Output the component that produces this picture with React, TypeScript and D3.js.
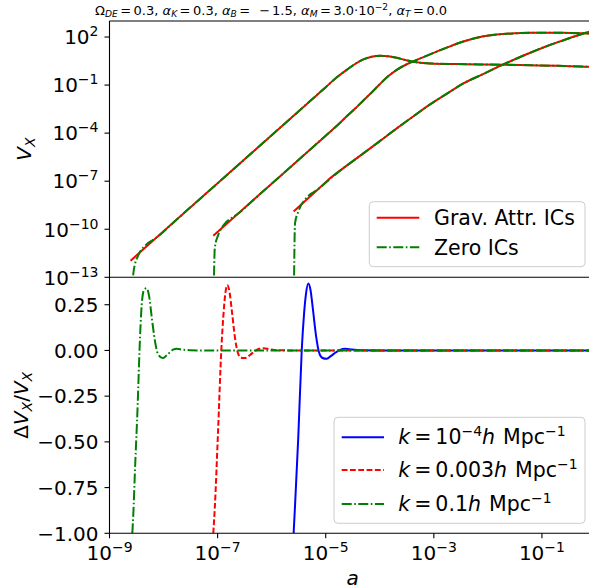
import React from "react";
import * as d3 from "d3";

// ---------- DATA (log10 values) ----------
// Top panel, gravitational-attractor ICs (red solid): log10(a), log10(V_X)
const gravK01LogA = [-8.61, -8.0, -7.0, -6.0, -5.0, -4.8, -4.612, -4.45, -4.304, -4.15, -4.0, -3.85, -3.686, -3.53, -3.379, -3.2, -3.07, -2.6, -2.145, -1.7, -1.22, -0.7, -0.13, 0];
const gravK01LogV = [-11.96, -10.13, -7.13, -4.13, -1.13, -0.53, -0.05, 0.33, 0.6, 0.77, 0.83, 0.8, 0.7, 0.57, 0.45, 0.38, 0.35, 0.31, 0.29, 0.27, 0.24, 0.2, 0.14, 0.12];

const gravK003LogA = [-7.08, -6.5, -6.0, -5.5, -5.0, -4.8, -4.612, -4.45, -4.304, -4.15, -3.995, -3.84, -3.686, -3.5, -3.316, -3.07, -2.75, -2.454, -2.145, -1.836, -1.5, -1.22, -0.9, -0.604, -0.3, 0];
const gravK003LogV = [-10.4, -8.66, -7.16, -5.66, -4.16, -3.56, -2.95, -2.45, -1.96, -1.46, -0.93, -0.44, -0.05, 0.3, 0.57, 0.92, 1.35, 1.72, 2.0, 2.15, 2.23, 2.26, 2.27, 2.26, 2.24, 2.21];

const gravK1e4LogA = [-5.594, -5.3, -5.0, -4.92, -4.6, -4.304, -4.0, -3.686, -3.37, -3.07, -2.75, -2.454, -2.1, -1.714, -1.35, -0.974, -0.6, -0.234, 0];
const gravK1e4LogV = [-8.89, -7.99, -7.07, -6.824, -6.0, -5.265, -4.5, -3.705, -2.93, -2.208, -1.52, -0.898, -0.33, 0.288, 0.83, 1.348, 1.8, 2.221, 2.45];

// Top panel, zero ICs (green dash-dot): early part that differs; afterwards it follows the red curve
const zeroK01LogA = [-8.578, -8.56, -8.528, -8.478, -8.445, -8.404, -8.362, -8.312, -8.269, -8.214, -8.158, -8.103, -8.016, -7.881, -7.757];
const zeroK01LogV = [-16, -12.81, -12.17, -11.713, -11.465, -11.245, -11.092, -10.939, -10.823, -10.704, -10.583, -10.448, -10.197, -9.777, -9.397];

const zeroK003LogA = [-7.08, -7.052, -6.993, -6.932, -6.891, -6.858, -6.821, -6.78, -6.734, -6.679, -6.623, -6.493, -6.308, -6.154];
const zeroK003LogV = [-16, -11.17, -10.399, -9.956, -9.754, -9.617, -9.49, -9.379, -9.279, -9.168, -9.036, -8.658, -8.085, -7.617];

const zeroK1e4LogA = [-5.594, -5.568, -5.507, -5.444, -5.401, -5.365, -5.322, -5.281, -5.235, -5.179, -5.124, -4.981, -4.809, -4.643];
const zeroK1e4LogV = [-16, -9.634, -8.9, -8.431, -8.22, -8.072, -7.923, -7.808, -7.705, -7.587, -7.456, -7.034, -6.544, -6.106];

// Bottom panel: Delta V_X / V_X versus log10(a)
const dK1e4LogA = [-5.594, -5.568, -5.507, -5.444, -5.401, -5.365, -5.322, -5.281, -5.235, -5.179, -5.124, -5.068, -4.981, -4.902, -4.809, -4.735, -4.643, -4.513, -4.365, -4.0, -3.0, -2.0, -1.0, 0];
const dK1e4 = [-1, -0.85, -0.47, 0, 0.2, 0.31, 0.366, 0.33, 0.22, 0.08, -0.01, -0.04, -0.046, -0.03, -0.01, 0.003, 0.009, 0.005, 0.001, 0, 0, 0, 0, 0];

const dK003LogA = [-7.08, -7.052, -6.993, -6.932, -6.891, -6.858, -6.821, -6.78, -6.734, -6.679, -6.623, -6.567, -6.493, -6.401, -6.308, -6.234, -6.154, -6.03, -5.882, -5.5, -4.0, -2.0, 0];
const dK003 = [-1, -0.86, -0.45, 0, 0.2, 0.31, 0.358, 0.32, 0.21, 0.07, -0.015, -0.04, -0.042, -0.025, -0.003, 0.009, 0.0125, 0.006, 0.001, 0, 0, 0, 0];

const dK01LogA = [-8.578, -8.56, -8.528, -8.478, -8.445, -8.404, -8.362, -8.312, -8.269, -8.214, -8.158, -8.103, -8.016, -7.955, -7.881, -7.825, -7.757, -7.659, -7.511, -7.326, -6.0, -4.0, -2.0, 0];
const dK01 = [-1, -0.9, -0.65, -0.29, 0, 0.25, 0.33, 0.34, 0.3, 0.17, 0.05, -0.02, -0.042, -0.03, -0.01, 0.004, 0.009, 0.005, 0.001, 0, 0, 0, 0, 0];

// Ticks
const xTickExps = [-9, -7, -5, -3, -1];
const yTopTickExps = [2, -1, -4, -7, -10, -13];
const yBotTicks = [0.25, 0, -0.25, -0.5, -0.75, -1.0];

// Legend labels
const topLegend = ["Grav. Attr. ICs", "Zero ICs"];
const kValues = ["10", "0.003", "0.1"];
const kSups = ["−4", "", ""];

// ---------- LAYOUT ----------
const W = 589, H = 588;
const X0 = 109.5, X1 = 596;
const TOP = 21, MID = 277.3, BOT = 533.3;
const FS = 20, SUP = 14, LFS = 20.5;
const RED = "#ff0000", GREEN = "#008000", BLUE = "#0000ff";
const DASH = "5.8,2.5";
const DASHDOT = "10,2.5,1.6,2.5";

const minus = (s: string) => s.replace(/-/g, "\u2212");

export default function App() {
  const x = d3.scaleLog().domain([1e-9, 1]).range([X0, X1]);
  const yT = d3.scaleLog().domain([1e-13, 1e3]).range([MID, TOP]);
  const yB = d3.scaleLinear().domain([-1, 0.4]).range([BOT, MID]);

  const topLine = d3
    .line<[number, number]>()
    .x((d) => x(Math.pow(10, d[0])))
    .y((d) => yT(Math.pow(10, d[1])))
    .curve(d3.curveMonotoneX);
  const botLine = d3
    .line<[number, number]>()
    .x((d) => x(Math.pow(10, d[0])))
    .y((d) => yB(d[1]))
    .curve(d3.curveMonotoneX);

  const zip = (a: number[], b: number[]) => a.map((v, i) => [v, b[i]] as [number, number]);
  const joinZero = (za: number[], zv: number[], ga: number[], gv: number[]) => {
    const start = zip(za, zv);
    const last = za[za.length - 1];
    return start.concat(zip(ga, gv).filter((p) => p[0] > last));
  };

  const grav = [
    zip(gravK01LogA, gravK01LogV),
    zip(gravK003LogA, gravK003LogV),
    zip(gravK1e4LogA, gravK1e4LogV),
  ];
  const zero = [
    joinZero(zeroK01LogA, zeroK01LogV, gravK01LogA, gravK01LogV),
    joinZero(zeroK003LogA, zeroK003LogV, gravK003LogA, gravK003LogV),
    joinZero(zeroK1e4LogA, zeroK1e4LogV, gravK1e4LogA, gravK1e4LogV),
  ];

  const font = "DejaVu Sans, sans-serif";
  const TS = 13, TSS = 9.1;

  return (
    <svg
      width={W}
      height={H}
      style={{ position: "absolute", left: 0, top: 0, background: "#fff" }}
      fontFamily={font}
    >
      <defs>
        <clipPath id="clipTop">
          <rect x={X0} y={TOP} width={X1 - X0} height={MID - TOP} />
        </clipPath>
        <clipPath id="clipBot">
          <rect x={X0} y={MID} width={X1 - X0} height={BOT - MID} />
        </clipPath>
      </defs>
      <rect x={0} y={0} width={W} height={H} fill="#fff" />

      {/* Title */}
      <text x={95} y={15} fontSize={TS} style={{ whiteSpace: "pre" }} fill="#000">
        <tspan>Ω</tspan>
        <tspan fontSize={TSS} fontStyle="italic" dy={2.3}>DE</tspan>
        <tspan dy={-2.3} dx={2.5}>=</tspan>
        <tspan dx={2.5}>0.3, </tspan>
        <tspan fontStyle="italic">α</tspan>
        <tspan fontSize={TSS} fontStyle="italic" dy={2.3}>K</tspan>
        <tspan dy={-2.3} dx={2.5}>=</tspan>
        <tspan dx={2.5}>0.3, </tspan>
        <tspan fontStyle="italic">α</tspan>
        <tspan fontSize={TSS} fontStyle="italic" dy={2.3}>B</tspan>
        <tspan dy={-2.3} dx={2.5}>=</tspan>
        <tspan dx={9}>−</tspan>
        <tspan dx={2}>1.5, </tspan>
        <tspan fontStyle="italic">α</tspan>
        <tspan fontSize={TSS} fontStyle="italic" dy={2.3}>M</tspan>
        <tspan dy={-2.3} dx={2.5}>=</tspan>
        <tspan dx={2.5}>3.0·10</tspan>
        <tspan fontSize={TSS} dy={-4.7}>−2</tspan>
        <tspan dy={4.7}>, </tspan>
        <tspan fontStyle="italic">α</tspan>
        <tspan fontSize={TSS} fontStyle="italic" dy={2.3}>T</tspan>
        <tspan dy={-2.3} dx={2.5}>=</tspan>
        <tspan dx={2.5}>0.0</tspan>
      </text>

      {/* Top panel curves */}
      <g clipPath="url(#clipTop)" fill="none" strokeWidth={2}>
        {grav.map((d, i) => (
          <path key={"g" + i} d={topLine(d) || ""} stroke={RED} />
        ))}
        {zero.map((d, i) => (
          <path key={"z" + i} d={topLine(d) || ""} stroke={GREEN} strokeDasharray={DASHDOT} />
        ))}
      </g>

      {/* Bottom panel curves */}
      <g clipPath="url(#clipBot)" fill="none" strokeWidth={2}>
        <path d={botLine(zip(dK1e4LogA, dK1e4)) || ""} stroke={BLUE} />
        <path d={botLine(zip(dK003LogA, dK003)) || ""} stroke={RED} strokeDasharray={DASH} />
        <path d={botLine(zip(dK01LogA, dK01)) || ""} stroke={GREEN} strokeDasharray={DASHDOT} />
      </g>

      {/* Spines */}
      <g stroke="#000" strokeWidth={1.1} fill="none">
        <line x1={X0} x2={X1} y1={TOP} y2={TOP} />
        <line x1={X0} x2={X1} y1={MID} y2={MID} />
        <line x1={X0} x2={X1} y1={BOT} y2={BOT} />
        <line x1={X0} x2={X0} y1={TOP} y2={BOT} />
      </g>

      {/* Top y ticks */}
      {yTopTickExps.map((e) => {
        const yy = yT(Math.pow(10, e));
        return (
          <g key={"yt" + e}>
            <line x1={X0 - 5} x2={X0} y1={yy} y2={yy} stroke="#000" strokeWidth={1.1} />
            <text x={98.5} y={yy + 7.3} fontSize={FS} textAnchor="end">
              10<tspan fontSize={SUP} dy={-8}>{minus(String(e))}</tspan>
            </text>
          </g>
        );
      })}

      {/* Bottom y ticks */}
      {yBotTicks.map((v) => {
        const yy = yB(v);
        return (
          <g key={"yb" + v}>
            <line x1={X0 - 5} x2={X0} y1={yy} y2={yy} stroke="#000" strokeWidth={1.1} />
            <text x={98.5} y={yy + 7.3} fontSize={FS} textAnchor="end">
              {minus(d3.format(".2f")(v))}
            </text>
          </g>
        );
      })}

      {/* X ticks */}
      {xTickExps.map((e) => {
        const xx = x(Math.pow(10, e));
        return (
          <g key={"xt" + e}>
            <line x1={xx} x2={xx} y1={BOT} y2={BOT + 5} stroke="#000" strokeWidth={1.1} />
            <text x={xx} y={559.5} fontSize={FS} textAnchor="middle">
              10<tspan fontSize={SUP} dy={-8}>{minus(String(e))}</tspan>
            </text>
          </g>
        );
      })}

      {/* Axis labels */}
      <text x={(X0 + X1) / 2} y={584.5} fontSize={FS} textAnchor="middle" fontStyle="italic">
        a
      </text>
      <text
        transform={`translate(31,${(TOP + MID) / 2}) rotate(-90)`}
        fontSize={FS}
        textAnchor="middle"
      >
        <tspan fontStyle="italic">V</tspan>
        <tspan fontSize={SUP} fontStyle="italic" dy={3.5}>X</tspan>
      </text>
      <text
        transform={`translate(28,${(MID + BOT) / 2}) rotate(-90)`}
        fontSize={FS}
        textAnchor="middle"
      >
        <tspan>Δ</tspan>
        <tspan fontStyle="italic">V</tspan>
        <tspan fontSize={SUP} fontStyle="italic" dy={3.5}>X</tspan>
        <tspan dy={-3.5}>/</tspan>
        <tspan fontStyle="italic">V</tspan>
        <tspan fontSize={SUP} fontStyle="italic" dy={3.5}>X</tspan>
      </text>

      {/* Top legend */}
      <g>
        <rect x={369.3} y={201.7} width={215.7} height={65} rx={4} fill="#fff" fillOpacity={0.8} stroke="#cccccc" strokeWidth={1} />
        <line x1={376.7} x2={419.3} y1={217.7} y2={217.7} stroke={RED} strokeWidth={2} />
        <line x1={376.7} x2={419.3} y1={247.3} y2={247.3} stroke={GREEN} strokeWidth={2} strokeDasharray={DASHDOT} />
        <text x={434} y={225} fontSize={LFS}>{topLegend[0]}</text>
        <text x={434} y={255} fontSize={LFS}>{topLegend[1]}</text>
      </g>

      {/* Bottom legend */}
      <g>
        <rect x={334} y={417.3} width={251} height={106} rx={4} fill="#fff" fillOpacity={0.8} stroke="#cccccc" strokeWidth={1} />
        <line x1={341.7} x2={384} y1={437.3} y2={437.3} stroke={BLUE} strokeWidth={2} />
        <line x1={341.7} x2={384} y1={470} y2={470} stroke={RED} strokeWidth={2} strokeDasharray={DASH} />
        <line x1={341.7} x2={384} y1={504} y2={504} stroke={GREEN} strokeWidth={2} strokeDasharray={DASHDOT} />
        {[444.3, 477, 511].map((yy, i) => (
          <text key={"lg" + i} x={398.3} y={yy} fontSize={LFS} style={{ whiteSpace: "pre" }}>
            <tspan fontStyle="italic">k</tspan>
            <tspan dx={4}>=</tspan>
            <tspan dx={4}>{kValues[i]}</tspan>
            {kSups[i] ? <tspan fontSize={SUP} dy={-8}>{kSups[i]}</tspan> : null}
            <tspan fontStyle="italic" dy={kSups[i] ? 8 : 0}>h</tspan>
            <tspan dx={8}>Mpc</tspan>
            <tspan fontSize={SUP} dy={-8}>−1</tspan>
          </text>
        ))}
      </g>
    </svg>
  );
}
